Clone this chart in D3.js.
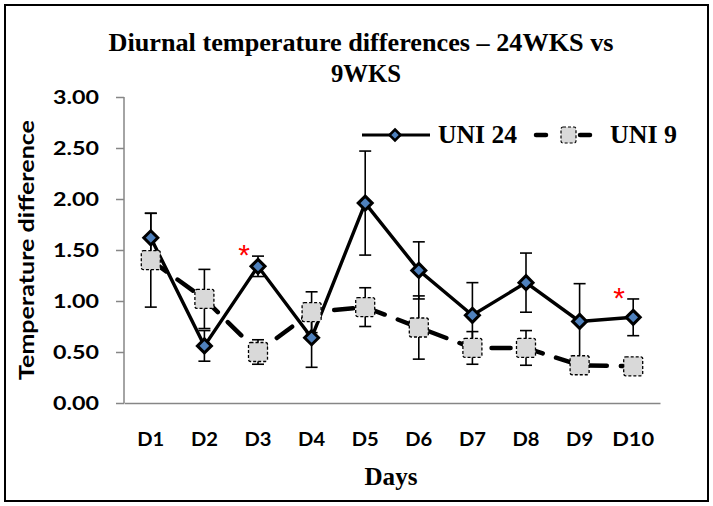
<html>
<head>
  <title></title>
  <script type="text/javascript" src="https://cdn.jsdelivr.net/npm/d3@7"></script>
<style type="text/css">
body { margin: 0; background: #fff; }
</style>
</head>
<body>
<script type="text/javascript">
// chart values
var days = ['D1', 'D2', 'D3', 'D4', 'D5', 'D6', 'D7', 'D8', 'D9', 'D10'];
var uni24 = [1.62, 0.56, 1.34, 0.64, 1.96, 1.30, 0.86, 1.18, 0.80, 0.84];
var uni24Err = [0.24, 0.15, 0.10, 0.29, 0.51, 0.28, 0.32, 0.29, 0.37, 0.18];
var uni9 = [1.40, 1.02, 0.50, 0.89, 0.94, 0.74, 0.54, 0.54, 0.37, 0.36];
var uni9Err = [0.46, 0.29, 0.12, 0.20, 0.19, 0.31, 0.16, 0.17, 0.05, 0.04];
var yTicks = [0, 0.5, 1, 1.5, 2, 2.5, 3];
var starDays = ['D3', 'D10'];

var w = 713, h = 506;
// note: 'top' is taken by window.top, so use plot_* names
var plot_l = 124, plot_r = 660, plot_t = 97, plot_b = 403;

var svg = d3.select('body').append('svg')
  .attr('width', w)
  .attr('height', h);

svg.append('rect')
  .attr('x', 5).attr('y', 5)
  .attr('width', w - 10).attr('height', h - 10)
  .attr('fill', '#fff')
  .attr('stroke', '#000')
  .attr('stroke-width', 2);

var x = d3.scaleBand().domain(days).range([plot_l, plot_r]);
var y = d3.scaleLinear().domain([0, 3]).range([plot_b, plot_t]);
var cx = function(d) { return x(d) + x.bandwidth() / 2; };

// stretch a text to a given width
function fit(sel, width) {
  sel.attr('textLength', width).attr('lengthAdjust', 'spacingAndGlyphs');
}

// axes
var yAxis = svg.append('g')
  .attr('transform', 'translate(' + plot_l + ',0)')
  .call(d3.axisLeft(y).tickValues(yTicks).tickFormat(d3.format('.2f')).tickSize(8).tickPadding(17));
yAxis.select('.domain').attr('stroke', '#868686').attr('stroke-width', 1.5).attr('d', 'M0,' + plot_t + 'V' + plot_b);
yAxis.selectAll('.tick line').attr('stroke', '#868686').attr('stroke-width', 1.5);
yAxis.selectAll('.tick text')
  .attr('font-family', 'Lato')
  .attr('font-weight', 'bold')
  .attr('font-size', 19)
  .attr('fill', '#000')
  .call(fit, 46);

var xAxis = svg.append('g')
  .attr('transform', 'translate(0,' + plot_b + ')')
  .call(d3.axisBottom(x).tickSize(0).tickPadding(30));
xAxis.select('.domain').attr('stroke', '#868686').attr('stroke-width', 1.5);
xAxis.selectAll('.tick text')
  .attr('font-family', 'Lato')
  .attr('font-weight', 'bold')
  .attr('font-size', 19)
  .attr('fill', '#000')
  .each(function(d) { d3.select(this).call(fit, d.length > 2 ? 42 : 27); });

// titles
svg.append('text')
  .attr('x', 361).attr('y', 51)
  .attr('text-anchor', 'middle')
  .attr('font-family', 'Liberation Serif')
  .attr('font-weight', 'bold')
  .attr('font-size', 25)
  .text('Diurnal temperature differences \u2013 24WKS vs')
  .call(fit, 505);
svg.append('text')
  .attr('x', 366).attr('y', 82)
  .attr('text-anchor', 'middle')
  .attr('font-family', 'Liberation Serif')
  .attr('font-weight', 'bold')
  .attr('font-size', 25)
  .text('9WKS')
  .call(fit, 70);

svg.append('text')
  .attr('x', 391).attr('y', 485)
  .attr('text-anchor', 'middle')
  .attr('font-family', 'Liberation Serif')
  .attr('font-weight', 'bold')
  .attr('font-size', 25)
  .text('Days')
  .call(fit, 53);

svg.append('text')
  .attr('transform', 'translate(34,250) rotate(-90)')
  .attr('text-anchor', 'middle')
  .attr('font-family', 'Lato')
  .attr('font-weight', 'bold')
  .attr('font-size', 20)
  .text('Temperature difference')
  .call(fit, 260);

// lines
var line = d3.line().x(function(d, i) { return cx(days[i]); }).y(function(d) { return y(d); });

svg.append('path')
  .datum(uni24)
  .attr('d', line)
  .attr('fill', 'none')
  .attr('stroke', '#000')
  .attr('stroke-width', 3.4);

svg.append('path')
  .datum(uni9)
  .attr('d', line)
  .attr('fill', 'none')
  .attr('stroke', '#000')
  .attr('stroke-width', 4.5)
  .attr('stroke-linecap', 'round')
  .attr('stroke-dasharray', '19,14');

// error bars
function errorBars(vals, errs) {
  var g = svg.append('g').attr('stroke', '#000').attr('stroke-width', 1.6);
  var bars = g.selectAll('g').data(vals).enter().append('g');
  bars.append('line')
    .attr('x1', function(d, i) { return cx(days[i]); })
    .attr('x2', function(d, i) { return cx(days[i]); })
    .attr('y1', function(d, i) { return y(d + errs[i]); })
    .attr('y2', function(d, i) { return y(d - errs[i]); });
  [1, -1].forEach(function(s) {
    bars.append('line')
      .attr('x1', function(d, i) { return cx(days[i]) - 6; })
      .attr('x2', function(d, i) { return cx(days[i]) + 6; })
      .attr('y1', function(d, i) { return y(d + s * errs[i]); })
      .attr('y2', function(d, i) { return y(d + s * errs[i]); });
  });
}
errorBars(uni24, uni24Err);
errorBars(uni9, uni9Err);

// markers
var diamond = function(r) { return 'M0,' + (-r) + 'L' + r + ',0L0,' + r + 'L' + (-r) + ',0Z'; };

svg.append('g').selectAll('rect')
  .data(uni9).enter()
  .append('rect')
  .attr('x', function(d, i) { return cx(days[i]) - 9.5; })
  .attr('y', function(d) { return y(d) - 9.5; })
  .attr('width', 19).attr('height', 19)
  .attr('rx', 2)
  .attr('fill', '#D9D9D9')
  .attr('stroke', '#000')
  .attr('stroke-width', 1.3)
  .attr('stroke-dasharray', '3,2');

svg.append('g').selectAll('path')
  .data(uni24).enter()
  .append('path')
  .attr('transform', function(d, i) { return 'translate(' + cx(days[i]) + ',' + y(d) + ')'; })
  .attr('d', diamond(7))
  .attr('fill', '#4F81BD')
  .attr('stroke', '#000')
  .attr('stroke-width', 3);

// significance stars
svg.selectAll('.star')
  .data(starDays).enter()
  .append('text')
  .attr('class', 'star')
  .attr('x', function(d) { return cx(d) - 14; })
  .attr('y', function(d) { var i = days.indexOf(d); return y(uni24[i] + uni24Err[i]) + 9; })
  .attr('text-anchor', 'middle')
  .attr('font-family', 'Liberation Sans')
  .attr('font-size', 30)
  .attr('fill', '#FF0000')
  .text('*');

// legend
var lg = svg.append('g');
lg.append('line').attr('x1', 362).attr('x2', 430).attr('y1', 135).attr('y2', 135)
  .attr('stroke', '#000').attr('stroke-width', 3);
lg.append('path').attr('transform', 'translate(395,135)').attr('d', diamond(5.5))
  .attr('fill', '#4F81BD').attr('stroke', '#000').attr('stroke-width', 2.5);
lg.append('text').attr('x', 438).attr('y', 143)
  .attr('font-family', 'Liberation Serif').attr('font-weight', 'bold').attr('font-size', 25)
  .text('UNI 24').call(fit, 79);

[[536, 546], [580, 590]].forEach(function(s) {
  lg.append('line').attr('x1', s[0]).attr('x2', s[1]).attr('y1', 135).attr('y2', 135)
    .attr('stroke', '#000').attr('stroke-width', 4.5).attr('stroke-linecap', 'round');
});
lg.append('rect').attr('x', 561).attr('y', 127).attr('width', 15).attr('height', 16).attr('rx', 2)
  .attr('fill', '#D9D9D9').attr('stroke', '#000').attr('stroke-width', 1.2).attr('stroke-dasharray', '3,2');
lg.append('text').attr('x', 610).attr('y', 143)
  .attr('font-family', 'Liberation Serif').attr('font-weight', 'bold').attr('font-size', 25)
  .text('UNI 9').call(fit, 67);
</script>
</body>
</html>
